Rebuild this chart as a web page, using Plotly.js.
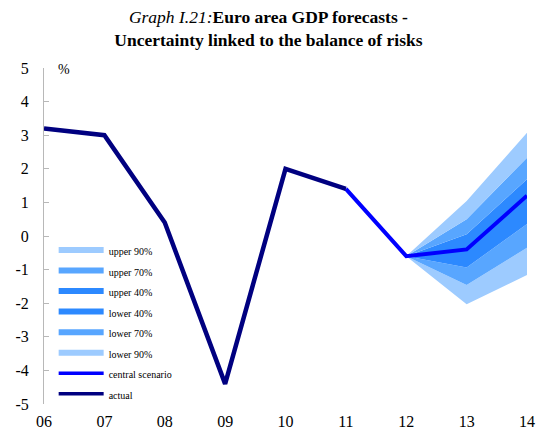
<!DOCTYPE html>
<html>
<head>
<meta charset="utf-8">
<script src="https://cdn.plot.ly/plotly-3.0.1.min.js"></script>
<style>html,body{margin:0;padding:0;background:#fff;}#chart{width:539px;height:430px;}</style>
</head>
<body>
<div id="chart"></div>
<script>
// ---- data ----
const years = [2006, 2007, 2008, 2009, 2010, 2011, 2012, 2013, 2014];
const tickLabels = ["06", "07", "08", "09", "10", "11", "12", "13", "14"];
const yTickVals = [-5, -4, -3, -2, -1, 0, 1, 2, 3, 4, 5];
const yTickLabels = ["-5", "-4", "-3", "-2", "-1", "0", "1", "2", "3", "4", "5"];
const actualYears = [2006, 2007, 2008, 2009, 2010, 2011];
const actual = [3.2, 3.0, 0.4, -4.4, 2.0, 1.4];
const centralYears = [2011, 2012, 2013, 2014];
const central = [1.4, -0.6, -0.4, 1.2];
const fanYears = [2012, 2013, 2014];
const lower90 = [-0.6, -2.03, -1.16];
const lower70 = [-0.6, -1.46, -0.35];
const lower40 = [-0.6, -0.94, 0.36];
const upper40 = [-0.6, 0.05, 1.69];
const upper70 = [-0.6, 0.5, 2.33];
const upper90 = [-0.6, 1.04, 3.07];

const SERIF = "Liberation Serif";
const cLight = "#9DCBFF", cMed = "#58A6FF", cDark = "#2C89FF";
const cCentral = "#0000FF", cActual = "#000080";

const fanTrace = (y, color, fill) => ({
  x: fanYears, y: y, type: "scatter", mode: "lines",
  line: {width: 0, color: color}, fill: fill, fillcolor: color,
  showlegend: false, hoverinfo: "skip"
});
const legendTrace = (name, color, w) => ({
  x: [null], y: [null], type: "scatter", mode: "lines",
  name: '<span style="font-size:10px">' + name + '</span>',
  line: {color: color, width: w}
});

const traces = [
  fanTrace(lower90, cLight, "none"),
  fanTrace(lower70, cLight, "tonexty"),
  fanTrace(lower40, cMed, "tonexty"),
  fanTrace(upper40, cDark, "tonexty"),
  fanTrace(upper70, cMed, "tonexty"),
  fanTrace(upper90, cLight, "tonexty"),
  {x: centralYears, y: central, type: "scatter", mode: "lines",
   line: {color: cCentral, width: 4}, showlegend: false},
  {x: actualYears, y: actual, type: "scatter", mode: "lines",
   line: {color: cActual, width: 4.5}, showlegend: false},
  legendTrace("upper 90%", cLight, 6),
  legendTrace("upper 70%", cMed, 6),
  legendTrace("upper 40%", cDark, 6),
  legendTrace("lower 40%", cDark, 6),
  legendTrace("lower 70%", cMed, 6),
  legendTrace("lower 90%", cLight, 6),
  legendTrace("central scenario", cCentral, 3.5),
  legendTrace("actual", cActual, 3.5)
];

const layout = {
  width: 539, height: 430,
  margin: {l: 44, r: 12, t: 68, b: 26},
  paper_bgcolor: "#fff", plot_bgcolor: "#fff",
  font: {family: SERIF, color: "#000"},
  title: {
    text: "<i>Graph I.21:</i><b>Euro area GDP forecasts -</b><br><b>Uncertainty linked to the balance of risks</b>",
    font: {size: 17.5, family: SERIF, color: "#000"},
    x: 0.498, xanchor: "center", yref: "container", y: 0.947, yanchor: "top"
  },
  xaxis: {
    range: [2006, 2014], tickvals: years, ticktext: tickLabels,
    showgrid: false, zeroline: false, showline: false, ticks: "",
    tickfont: {size: 16, family: SERIF}, ticklabelstandoff: 6, fixedrange: true
  },
  xaxis2: {
    overlaying: "x", anchor: "free", position: 0.5, side: "top",
    range: [2006, 2014], tickvals: years, showticklabels: false,
    showline: true, linecolor: "#a0a0a0", linewidth: 1,
    ticks: "outside", ticklen: 4, tickcolor: "#a0a0a0",
    showgrid: false, zeroline: false, layer: "above traces"
  },
  yaxis: {
    range: [-5, 5], tickvals: yTickVals, ticktext: yTickLabels,
    showgrid: false, zeroline: false,
    showline: true, linecolor: "#b8b8b8", linewidth: 1,
    ticks: "inside", ticklen: 5, tickcolor: "#b8b8b8",
    tickfont: {size: 16, family: SERIF}, ticklabelstandoff: 11
  },
  showlegend: true,
  legend: {
    x: 0.02, y: 0.504, xanchor: "left", yanchor: "top",
    bgcolor: "rgba(0,0,0,0)", borderwidth: 0,
    font: {size: 13.5, family: SERIF, color: "#000"},
    tracegroupgap: 0, traceorder: "normal", itemwidth: 45
  },
  annotations: [{
    text: "%", xref: "paper", yref: "paper", x: 0.024, y: 0.995,
    xanchor: "left", yanchor: "middle", showarrow: false,
    font: {size: 14, family: SERIF}
  }]
};

Plotly.newPlot("chart", traces, layout, {displayModeBar: false, staticPlot: true});
</script>
</body>
</html>
